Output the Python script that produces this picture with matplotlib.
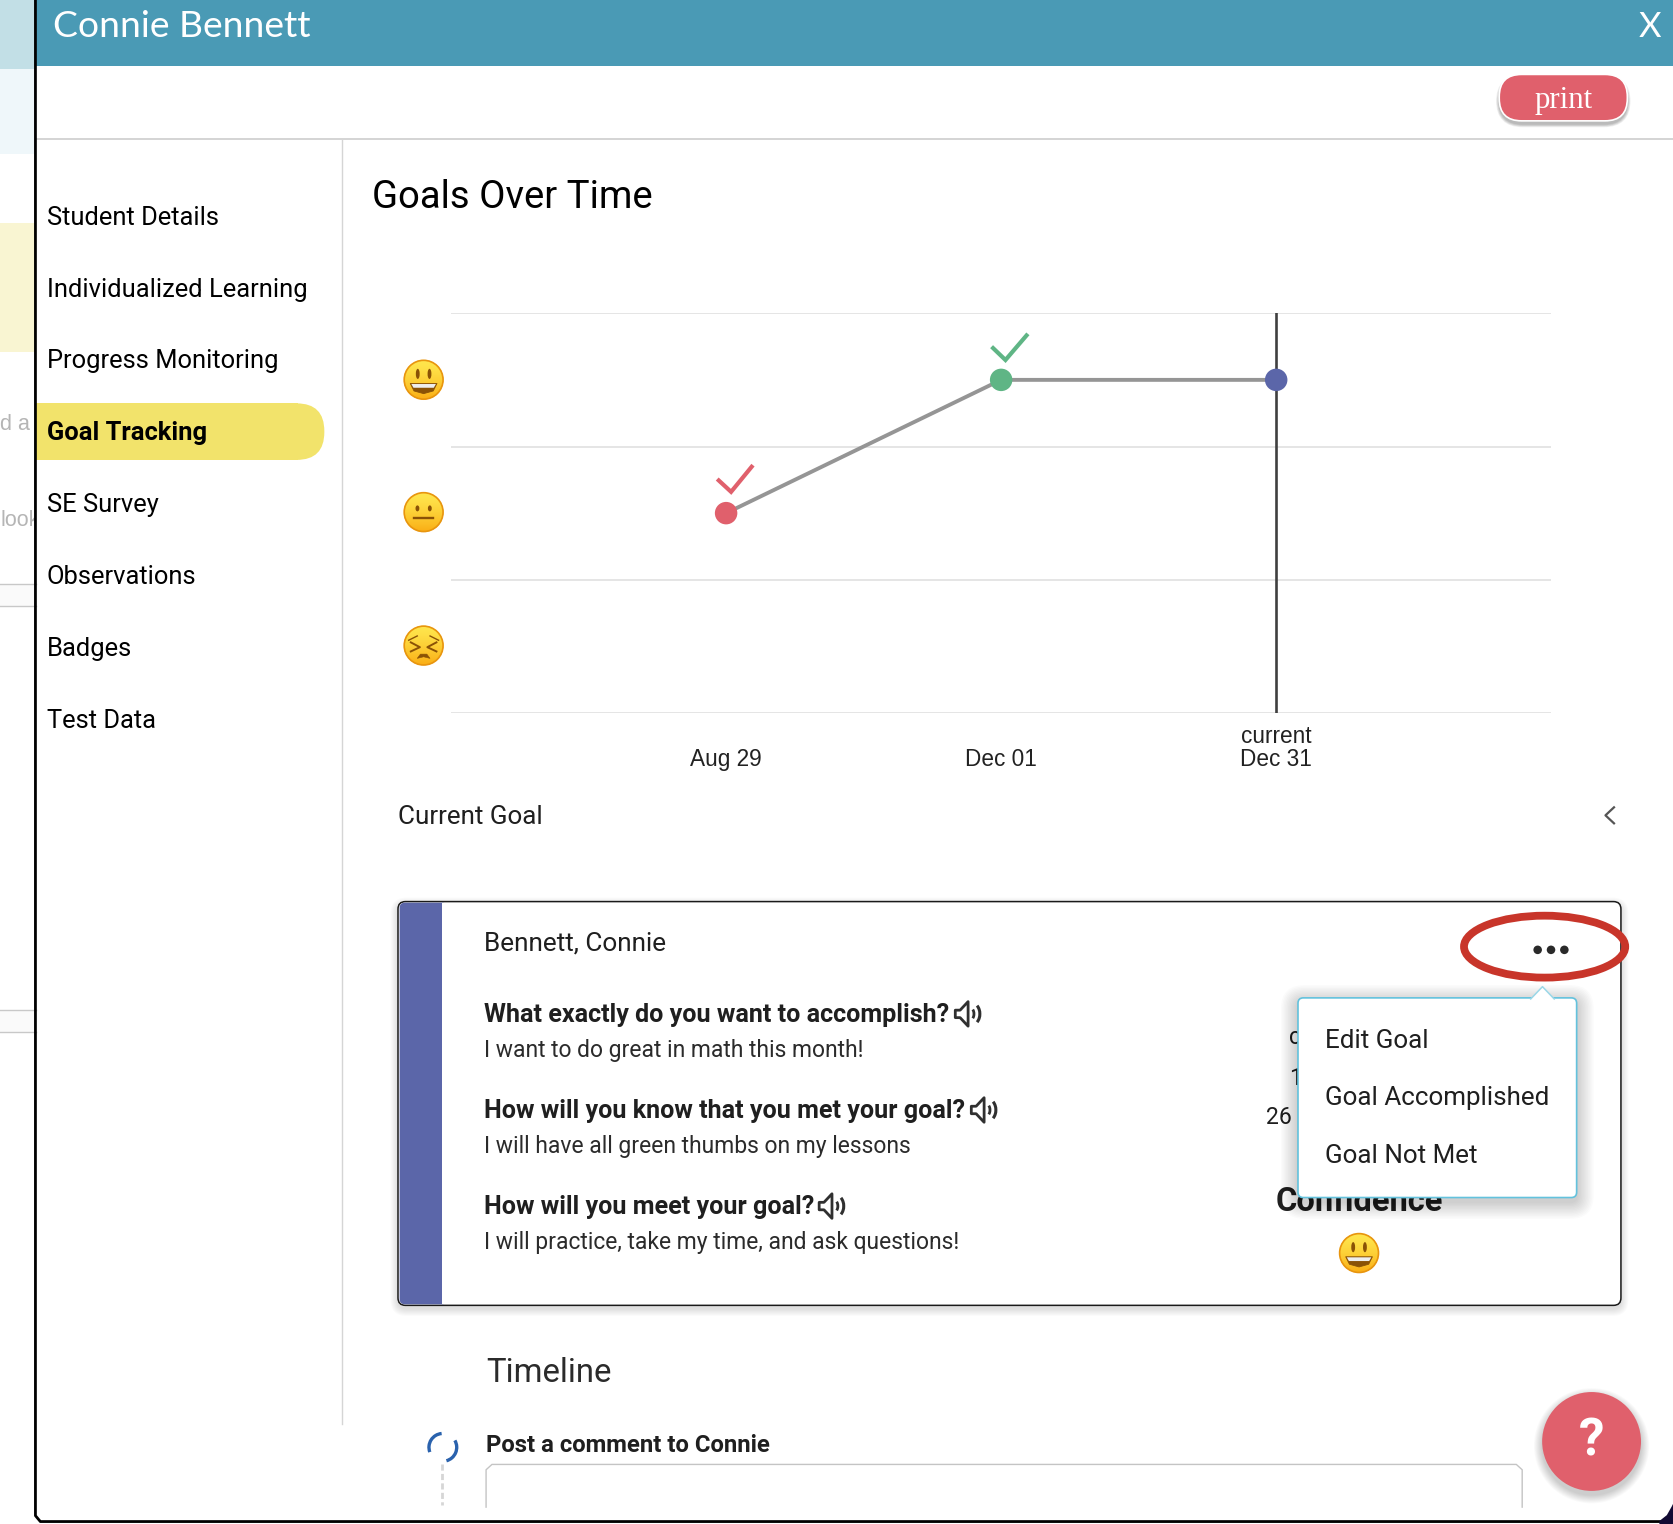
import numpy as np
import matplotlib
matplotlib.use("Agg")
import matplotlib.pyplot as plt
from matplotlib.patches import Rectangle, FancyBboxPatch, Circle, Ellipse, Polygon, Arc
from matplotlib.lines import Line2D

# ---------- data ----------
dates = ["Aug 29", "Dec 01", "current\nDec 31"]
confidence = [1.5, 2.5, 2.5]
point_colors = ["#e0606c", "#5fb585", "#5b66a9"]
grid_levels = [0, 1, 2, 3]
nav_items = ["Student Details", "Individualized Learning", "Progress Monitoring", "Goal Tracking",
             "SE Survey", "Observations", "Badges", "Test Data"]
questions = ["What exactly do you want to accomplish?", "How will you know that you met your goal?",
             "How will you meet your goal?"]
answers = ["I want to do great in math this month!", "I will have all green thumbs on my lessons",
           "I will practice, take my time, and ask questions!"]
menu_items = ["Edit Goal", "Goal Accomplished", "Goal Not Met"]

W, H = 1568, 1427.5
OX, OY = 0.7, 0.8
RED, BLUE = "#e0606c", "#5b66a9"
INK = "#1f1f1f"
plt.rcParams["font.family"] = ["Roboto", "DejaVu Sans"]

fig = plt.figure(figsize=(16.74, 15.24), dpi=100, facecolor="white")
ui = fig.add_axes([0, 0, 1, 1], zorder=0)
ui.set_xlim(OX, W + OX); ui.set_ylim(H + OY, OY); ui.axis("off")


def rect(x0, y0, x1, y1, c, z=1, **k):
    ui.add_patch(Rectangle((x0, y0), x1 - x0, y1 - y0, fc=c, ec="none", zorder=z, **k))


def rrect(x0, y0, x1, y1, r, fc, ec="none", lw=0, z=2):
    p = FancyBboxPatch((x0 + r, y0 + r), x1 - x0 - 2 * r, y1 - y0 - 2 * r,
                       boxstyle=f"round,pad={r},rounding_size={r}", fc=fc, ec=ec, lw=lw, zorder=z)
    ui.add_patch(p)
    return p


def shadow(x0, y0, x1, y1, r, spread, dy, z, a=0.018, n=10):
    for i in range(n):
        g = spread * (1 - i / n)
        p = rrect(x0 - g, y0 - g + dy, x1 + g, y1 + g + dy, r + g, "black", z=z)
        p.set_alpha(a)


def txt(x, y, s, size, c=INK, w="normal", ha="left", fam=None, z=5, **k):
    return ui.text(x, y + 1.8, s, fontsize=size, color=c, fontweight=w, ha=ha, va="center",
                   zorder=z, family=fam if fam else ["Roboto", "DejaVu Sans"], **k)


def face(cx, cy, kind, r=18.6, z=6):
    yy = np.linspace(0, 1, 64)[:, None]
    top = np.array([1.0, 0.90, 0.30]); bot = np.array([0.98, 0.68, 0.08])
    img = (top + (bot - top) * yy[..., None] ** 1.4).reshape(64, 1, 3)
    im = ui.imshow(img, extent=(cx - r, cx + r, cy + r, cy - r), aspect="auto", zorder=z)
    im.set_clip_path(Circle((cx, cy), r, transform=ui.transData))
    ui.add_patch(Circle((cx, cy), r - 0.4, fc="none", ec="#e8950f", lw=1.2, zorder=z + 1))
    b = "#8a5206"
    if kind == "happy":
        for dx in (-5.5, 5.5):
            ui.add_patch(Ellipse((cx + dx, cy - 5.5), 3.6, 9.5, fc=b, ec="none", zorder=z + 1))
        v = [(cx - 12.5, cy + 3.5), (cx + 12.5, cy + 3.5), (cx + 9, cy + 10.5), (cx, cy + 13), (cx - 9, cy + 10.5)]
        ui.add_patch(Polygon(v, fc=b, ec=b, lw=0.6, joinstyle="round", zorder=z + 1))
        ui.add_patch(Polygon([(cx - 11.5, cy + 4), (cx + 11.5, cy + 4), (cx + 9.5, cy + 7.5), (cx - 9.5, cy + 7.5)],
                             fc="#eeeeee", ec="none", zorder=z + 2))
    elif kind == "neutral":
        for dx in (-5.8, 5.8):
            ui.add_patch(Ellipse((cx + dx, cy - 3.5), 3.6, 5.6, fc=b, ec="none", zorder=z + 1))
        ui.add_line(Line2D([cx - 9, cx + 9], [cy + 5.5, cy + 5.5], color=b, lw=1.7, zorder=z + 1))
    else:
        for sgn in (-1, 1):
            ui.add_line(Line2D([cx + sgn * 12, cx + sgn * 3.5, cx + sgn * 12],
                               [cy - 3, cy + 1.5, cy + 5.5], color=b, lw=1.4, zorder=z + 1))
            ui.add_line(Line2D([cx + sgn * 14, cx + sgn * 6], [cy - 5, cy - 9], color=b, lw=1.0, zorder=z + 1))
        ui.add_patch(Polygon([(cx - 6, cy + 12), (cx - 3, cy + 8), (cx + 3, cy + 8), (cx + 6, cy + 12), (cx, cy + 10.5)],
                             fc=b, ec=b, lw=0.4, zorder=z + 1))


def speaker(x, y):
    s = [(x, y - 3.5), (x + 4.5, y - 3.5), (x + 12, y - 11.5), (x + 12, y + 11.5), (x + 4.5, y + 3.5), (x, y + 3.5)]
    ui.add_patch(Polygon(s, fc="white", ec="#303030", lw=2.0, zorder=5, joinstyle="round"))
    ui.add_patch(Arc((x + 14, y), 7, 11, theta1=-60, theta2=60, ec="#303030", lw=2.0, zorder=5))
    ui.add_patch(Arc((x + 15, y), 16, 21, theta1=-55, theta2=55, ec="#303030", lw=2.2, zorder=5))


# ---------- page behind the dialog ----------
rect(0, 0, 34, 65.5, "#c2dfe6")
rect(0, 65.5, 34, 145.5, "#eff7fa")
rect(0, 209.5, 34, 330.5, "#f9f5d2")
for y0, y1 in ((547.5, 568.5), (946.5, 967.5)):
    rect(0, y0, 34, y1, "#fafafa")
    ui.add_line(Line2D([0, 34], [y0, y0], color="#c8c8c8", lw=1.0, zorder=2))
    ui.add_line(Line2D([0, 34], [y1, y1], color="#c8c8c8", lw=1.0, zorder=2))
txt(0.8, 397, "d a", 15.5, c="#b5b5b5", fam="Liberation Sans")
t_look = txt(0.8, 487, "look", 15.5, c="#b5b5b5", fam="Liberation Sans")
t_look.set_clip_on(True)
t_look.set_clip_path(Rectangle((0, 470), 33, 34, transform=ui.transData))

# ---------- dialog frame ----------
rect(34.7, 0, W + 2, 62.8, "#4a9ab5")
txt(50.7, 24, "Connie Bennett", 26.8, c="white", fam="Lato")
txt(1546.2, 24.5, "X", 25, c="white", ha="center", fam="Lato")
ui.add_line(Line2D([33.9, 33.9, 38.5, W + 2], [0, 1420.5, 1426, 1426], color="black", lw=2.0, zorder=8))
ui.add_patch(Polygon([(1569, 1407), (1569, H + 1), (1555, H + 1), (1555, 1425.5), (1562, 1420), (1566.5, 1412)],
                     fc="#120a33", ec="none", zorder=9))

# print button
shadow(1405, 71, 1525, 114, 22, 3, 3, 2, a=0.06, n=5)
rrect(1405, 70.5, 1525, 114, 21, RED, ec="white", lw=1.2, z=3)
txt(1465.5, 93, "print", 22.2, c="white", ha="center", fam="Liberation Serif")

ui.add_line(Line2D([34, W + 2], [130.8, 130.8], color="#c9c9c9", lw=1.1, zorder=2))
ui.add_line(Line2D([321.2, 321.2], [131, 1335], color="#d5d5d5", lw=1.0, zorder=2))

# side menu
rect(34.8, 378.6, 280, 431.6, "#f2e36b", z=2)
rrect(240, 378.6, 304.5, 431.6, 26, "#f2e36b", z=2)
for i, item in enumerate(nav_items):
    txt(44.6, 203 + i * 67.3, item, 18.35, c="black", w="bold" if item == "Goal Tracking" else "normal")

txt(349.5, 184, "Goals Over Time", 27.5, c="black")
txt(373.5, 764, "Current Goal", 18.75, c=INK)
ui.add_line(Line2D([1512.5, 1504.5, 1512.5], [757, 764.5, 772], color="#555555", lw=1.6, zorder=4))

# emoji axis labels
face(397.5, 356.5, "happy")
face(397.5, 480.5, "neutral")
face(397.5, 605.5, "sad")

# check marks
ui.add_line(Line2D([672.5, 685.5, 706], [449.5, 461.5, 436.5], color=RED, lw=3.0, zorder=4, solid_joinstyle="miter", solid_capstyle="butt"))
ui.add_line(Line2D([929.5, 942.5, 963.5], [325.5, 338, 313.5], color="#5fb585", lw=3.0, zorder=4, solid_joinstyle="miter", solid_capstyle="butt"))

# ---------- goal card ----------
shadow(373.5, 845.5, 1519, 1223.5, 8, 7, 3, 2, a=0.016, n=8)
rrect(373.5, 845.3, 1519, 1223.5, 7, "white", ec="#1a1a1a", lw=1.1, z=3)
rrect(375, 846.3, 420, 1222.5, 5, BLUE, z=3.1)
rect(414.7, 846.5, 422, 1222.3, "white", z=3.2)
txt(454.3, 883, "Bennett, Connie", 18.8, c=INK)
for i, (q, a) in enumerate(zip(questions, answers)):
    dy = i * 90
    t = txt(454.3, 950 + dy, q, 18.1, c=INK, w="bold")
    txt(454.3, 982.8 + dy, a, 16.5, c="#2b2b2b")
speaker(895.5, 950.5)
speaker(910.5, 1040.5)
speaker(768, 1130.5)

txt(1198.5, 1046, "26", 16.55, c=INK, ha="center")
txt(1214.5, 1009, "1", 16.55, c=INK, ha="center")
txt(1213.5, 971, "c", 16.55, c=INK, ha="center")
txt(1273.5, 1125, "Confidence", 23.5, c=INK, w="bold", ha="center")
face(1273.7, 1174.5, "happy")

# red ellipse and dots
ui.add_patch(Ellipse((1447.5, 887.5), 151, 58, fc="none", ec="#c8352a", lw=5.6, zorder=7))
for x in (1441, 1453.5, 1466):
    ui.add_patch(Circle((x, 890.5), 4.0, fc="#2a2a2a", ec="none", zorder=7))

# popup menu
shadow(1216.5, 935.5, 1477.5, 1122.5, 6, 16, 4, 5.1, a=0.016, n=12)
rrect(1216.5, 935.5, 1477.5, 1122.5, 5, "white", ec="#63c2dd", lw=1.2, z=5.5)
ui.add_patch(Polygon([(1434.5, 937), (1445.5, 925), (1456.5, 937)], fc="white", ec="none", zorder=5.7))
ui.add_line(Line2D([1434.5, 1445.5, 1456.5], [936.5, 925, 936.5], color="#9bd8e8", lw=1.1, zorder=5.8))
for y, item in zip((974.5, 1027.7, 1082), menu_items):
    txt(1241.5, y, item, 18.7, c=INK, z=5.9)

# timeline
txt(456.2, 1285, "Timeline", 23.7, c="#2b2b2b")
txt(455.5, 1352.6, "Post a comment to Connie", 17.2, c=INK, w="bold")
ui.add_patch(Arc((415.5, 1356.5), 26, 26, theta1=160, theta2=265, ec="#2a62ad", lw=2.4, zorder=4))
ui.add_patch(Arc((415.5, 1356.5), 26, 26, theta1=-30, theta2=75, ec="#2a62ad", lw=2.4, zorder=4))
ui.add_line(Line2D([415, 415], [1372.5, 1410.5], color="#d6d6d6", lw=2.0, ls=(0, (2.2, 1.2)), zorder=3))
ui.add_line(Line2D([456, 456, 461.5, 1421, 1426.5, 1426.5], [1412.5, 1377.5, 1372.5, 1372.5, 1377.5, 1412.5],
                   color="#c4c4c4", lw=1.0, zorder=3))

# help button
for i in range(10):
    c = Circle((1491.5, 1355), 46 + 8 * (1 - i / 10), fc="black", ec="none", alpha=0.02, zorder=5)
    ui.add_patch(c)
ui.add_patch(Circle((1491.5, 1351), 46.3, fc=RED, ec="none", zorder=6))
txt(1491.5, 1349, "?", 37, c="white", w="bold", ha="center", z=7)
ui.set_xlim(OX, W + OX); ui.set_ylim(H + OY, OY)

# ---------- chart ----------
L, R, T, B = 423.0 - 0.5, 1453.5 - 0.5, 294.0 - 0.6, 668.3 - 0.4
ax = fig.add_axes([L / W, 1 - B / H, (R - L) / W, (B - T) / H], zorder=1)
ax.patch.set_alpha(0)
xs = np.arange(len(dates))
ax.set_xlim(-1, 3)
ax.set_ylim(0, 3)
for s in ax.spines.values():
    s.set_visible(False)
ax.set_yticks(grid_levels)
ax.set_yticklabels([])
ax.grid(axis="y", color="#e0e0e0", lw=1.2)
ax.tick_params(axis="y", length=0)
ax.set_axisbelow(True)
ax.axvline(xs[-1], color="#404040", lw=1.9, zorder=2)
ax.plot(xs, confidence, color="#959595", lw=2.8, zorder=3, solid_capstyle="butt")
ax.scatter(xs, confidence, s=262, c=point_colors, zorder=4, linewidths=0, clip_on=False)
ax.set_xticks(xs)
ax.set_xticklabels(dates, family="Liberation Sans", fontsize=16.3, color="#222222", linespacing=1.04)
ax.tick_params(axis="x", length=0, pad=42.0)
for lab in ax.get_xticklabels():
    lab.set_verticalalignment("bottom")

fig.savefig("out.png", dpi=100)
